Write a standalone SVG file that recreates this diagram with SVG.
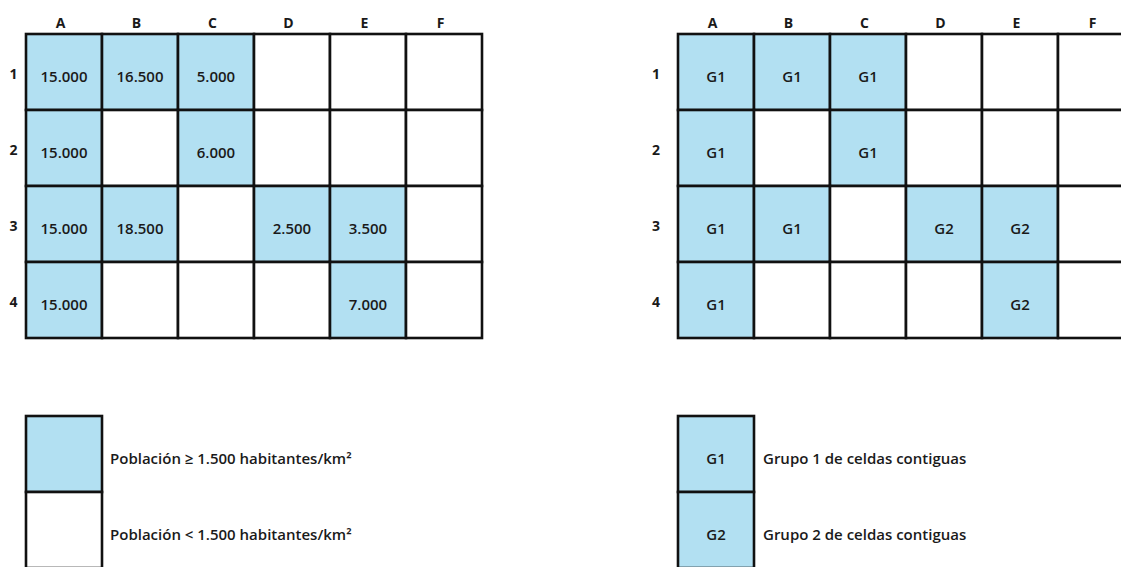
<svg xmlns="http://www.w3.org/2000/svg" width="1121" height="567" viewBox="0 0 1121 567">
<style>
.c{stroke:#111;stroke-width:2.6;fill:#fff}
.f{fill:#b2e0f2}
text{font-family:"Open Sans","Noto Sans","Liberation Sans",sans-serif;font-weight:600;fill:#1a1a1a}
.v{font-size:15px;text-anchor:middle}
.h{font-size:14px;text-anchor:middle;font-weight:700}
.l{font-size:15px}
</style>
<rect width="1121" height="567" fill="#fff"/>
<g id="left-headers">
<text class="h" x="60.5" y="28">A</text><text class="h" x="136.5" y="28">B</text><text class="h" x="212.5" y="28">C</text><text class="h" x="288.5" y="28">D</text><text class="h" x="364.5" y="28">E</text><text class="h" x="440.5" y="28">F</text>
<text class="h" x="13.5" y="79">1</text><text class="h" x="13.5" y="155">2</text><text class="h" x="13.5" y="231">3</text><text class="h" x="13.5" y="307">4</text>
</g>
<g id="left-grid">
<g id="L-A1"><rect class="c f" x="26" y="34" width="76" height="76"/><text class="v" x="64" y="82">15.000</text></g>
<g id="L-B1"><rect class="c f" x="102" y="34" width="76" height="76"/><text class="v" x="140" y="82">16.500</text></g>
<g id="L-C1"><rect class="c f" x="178" y="34" width="76" height="76"/><text class="v" x="216" y="82">5.000</text></g>
<g id="L-D1"><rect class="c" x="254" y="34" width="76" height="76"/></g>
<g id="L-E1"><rect class="c" x="330" y="34" width="76" height="76"/></g>
<g id="L-F1"><rect class="c" x="406" y="34" width="76" height="76"/></g>
<g id="L-A2"><rect class="c f" x="26" y="110" width="76" height="76"/><text class="v" x="64" y="158">15.000</text></g>
<g id="L-B2"><rect class="c" x="102" y="110" width="76" height="76"/></g>
<g id="L-C2"><rect class="c f" x="178" y="110" width="76" height="76"/><text class="v" x="216" y="158">6.000</text></g>
<g id="L-D2"><rect class="c" x="254" y="110" width="76" height="76"/></g>
<g id="L-E2"><rect class="c" x="330" y="110" width="76" height="76"/></g>
<g id="L-F2"><rect class="c" x="406" y="110" width="76" height="76"/></g>
<g id="L-A3"><rect class="c f" x="26" y="186" width="76" height="76"/><text class="v" x="64" y="234">15.000</text></g>
<g id="L-B3"><rect class="c f" x="102" y="186" width="76" height="76"/><text class="v" x="140" y="234">18.500</text></g>
<g id="L-C3"><rect class="c" x="178" y="186" width="76" height="76"/></g>
<g id="L-D3"><rect class="c f" x="254" y="186" width="76" height="76"/><text class="v" x="292" y="234">2.500</text></g>
<g id="L-E3"><rect class="c f" x="330" y="186" width="76" height="76"/><text class="v" x="368" y="234">3.500</text></g>
<g id="L-F3"><rect class="c" x="406" y="186" width="76" height="76"/></g>
<g id="L-A4"><rect class="c f" x="26" y="262" width="76" height="76"/><text class="v" x="64" y="310">15.000</text></g>
<g id="L-B4"><rect class="c" x="102" y="262" width="76" height="76"/></g>
<g id="L-C4"><rect class="c" x="178" y="262" width="76" height="76"/></g>
<g id="L-D4"><rect class="c" x="254" y="262" width="76" height="76"/></g>
<g id="L-E4"><rect class="c f" x="330" y="262" width="76" height="76"/><text class="v" x="368" y="310">7.000</text></g>
<g id="L-F4"><rect class="c" x="406" y="262" width="76" height="76"/></g>
</g>
<g id="right-headers">
<text class="h" x="712.5" y="28">A</text><text class="h" x="788.5" y="28">B</text><text class="h" x="864.5" y="28">C</text><text class="h" x="940.5" y="28">D</text><text class="h" x="1016.5" y="28">E</text><text class="h" x="1092.5" y="28">F</text>
<text class="h" x="656" y="79">1</text><text class="h" x="656" y="155">2</text><text class="h" x="656" y="231">3</text><text class="h" x="656" y="307">4</text>
</g>
<g id="right-grid">
<g id="R-A1"><rect class="c f" x="678" y="34" width="76" height="76"/><text class="v" x="716" y="82">G1</text></g>
<g id="R-B1"><rect class="c f" x="754" y="34" width="76" height="76"/><text class="v" x="792" y="82">G1</text></g>
<g id="R-C1"><rect class="c f" x="830" y="34" width="76" height="76"/><text class="v" x="868" y="82">G1</text></g>
<g id="R-D1"><rect class="c" x="906" y="34" width="76" height="76"/></g>
<g id="R-E1"><rect class="c" x="982" y="34" width="76" height="76"/></g>
<g id="R-F1"><rect class="c" x="1058" y="34" width="76" height="76"/></g>
<g id="R-A2"><rect class="c f" x="678" y="110" width="76" height="76"/><text class="v" x="716" y="158">G1</text></g>
<g id="R-B2"><rect class="c" x="754" y="110" width="76" height="76"/></g>
<g id="R-C2"><rect class="c f" x="830" y="110" width="76" height="76"/><text class="v" x="868" y="158">G1</text></g>
<g id="R-D2"><rect class="c" x="906" y="110" width="76" height="76"/></g>
<g id="R-E2"><rect class="c" x="982" y="110" width="76" height="76"/></g>
<g id="R-F2"><rect class="c" x="1058" y="110" width="76" height="76"/></g>
<g id="R-A3"><rect class="c f" x="678" y="186" width="76" height="76"/><text class="v" x="716" y="234">G1</text></g>
<g id="R-B3"><rect class="c f" x="754" y="186" width="76" height="76"/><text class="v" x="792" y="234">G1</text></g>
<g id="R-C3"><rect class="c" x="830" y="186" width="76" height="76"/></g>
<g id="R-D3"><rect class="c f" x="906" y="186" width="76" height="76"/><text class="v" x="944" y="234">G2</text></g>
<g id="R-E3"><rect class="c f" x="982" y="186" width="76" height="76"/><text class="v" x="1020" y="234">G2</text></g>
<g id="R-F3"><rect class="c" x="1058" y="186" width="76" height="76"/></g>
<g id="R-A4"><rect class="c f" x="678" y="262" width="76" height="76"/><text class="v" x="716" y="310">G1</text></g>
<g id="R-B4"><rect class="c" x="754" y="262" width="76" height="76"/></g>
<g id="R-C4"><rect class="c" x="830" y="262" width="76" height="76"/></g>
<g id="R-D4"><rect class="c" x="906" y="262" width="76" height="76"/></g>
<g id="R-E4"><rect class="c f" x="982" y="262" width="76" height="76"/><text class="v" x="1020" y="310">G2</text></g>
<g id="R-F4"><rect class="c" x="1058" y="262" width="76" height="76"/></g>
</g>
<g id="legend-left">
<g id="leg-high"><rect class="c f" x="26" y="416" width="76" height="76"/><text class="l" x="110" y="464">Población ≥ 1.500 habitantes/km²</text></g>
<g id="leg-low"><rect class="c" x="26" y="492" width="76" height="76"/><text class="l" x="110" y="540">Población &lt; 1.500 habitantes/km²</text></g>
</g>
<g id="legend-right">
<g id="leg-g1"><rect class="c f" x="678" y="416" width="76" height="76"/><text class="v" x="716" y="464">G1</text><text class="l" x="763" y="464">Grupo 1 de celdas contiguas</text></g>
<g id="leg-g2"><rect class="c f" x="678" y="492" width="76" height="76"/><text class="v" x="716" y="540">G2</text><text class="l" x="763" y="540">Grupo 2 de celdas contiguas</text></g>
</g>
<g id="connectors"/>
</svg>
